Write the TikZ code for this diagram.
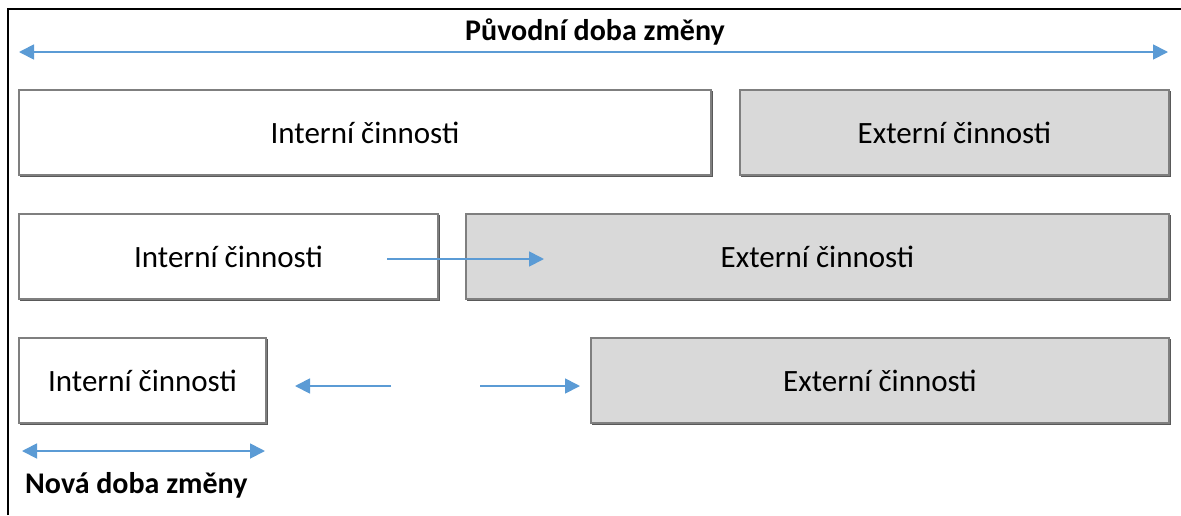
\documentclass[tikz,border=0pt]{standalone}
\usepackage{fontspec}
\setmainfont{Carlito}
\usetikzlibrary{arrows.meta}
\definecolor{arrowblue}{HTML}{5B9BD5}
\definecolor{boxgray}{HTML}{D9D9D9}
\definecolor{edgegray}{HTML}{7F7F7F}
\tikzset{
  actbox/.style={draw=edgegray, line width=1.5pt, inner sep=0pt, outer sep=0pt,
    font=\fontsize{31}{36}\selectfont, minimum height=85pt},
  intbox/.style={actbox, fill=white},
  extbox/.style={actbox, fill=boxgray},
  shade/.style={draw=black!65, line width=1.2pt},
  flow/.style={draw=arrowblue, line width=1.8pt, -{Triangle[length=15pt,width=15pt]}},
  span/.style={draw=arrowblue, line width=1.8pt, {Triangle[length=15pt,width=15pt]}-{Triangle[length=15pt,width=15pt]}},
  heading/.style={font=\fontsize{30}{34}\selectfont\bfseries, inner sep=0pt}
}
\begin{document}
\begin{tikzpicture}[x=1pt,y=-1pt]
\useasboundingbox (0,0) rectangle (1181,515);
% outer frame
\draw[line width=2pt, black] (8,515) -- (8,9) -- (1181,9);

% original changeover
\node[heading] (orig) at (595,32) {Původní doba změny};
\coordinate (oL) at (19,52);
\coordinate (oR) at (1168,52);
\draw[span] (oL) -- (oR);

% row 1
\draw[shade] (712,91) -- (712,176) -- (20,176);
\node[intbox, minimum width=692pt] (i1) at (365,132.5) {Interní činnosti};
\draw[shade] (1170,91) -- (1170,176) -- (741,176);
\node[extbox, minimum width=429pt] (e1) at (954.5,132.5) {Externí činnosti};

% row 2
\draw[shade] (439,215) -- (439,300) -- (20,300);
\node[intbox, minimum width=419pt] (i2) at (228.5,256.5) {Interní činnosti};
\draw[shade] (1170,215) -- (1170,300) -- (467,300);
\node[extbox, minimum width=703pt] (e2) at (817.5,256.5) {Externí činnosti};
\coordinate (m2a) at (387,259);
\coordinate (m2b) at (544,259);
\draw[flow] (m2a) -- (m2b);

% row 3
\draw[shade] (267,339) -- (267,424) -- (20,424);
\node[intbox, minimum width=247pt] (i3) at (142.5,380.5) {Interní činnosti};
\draw[shade] (1170,339) -- (1170,424) -- (592,424);
\node[extbox, minimum width=578pt] (e3) at (880,380.5) {Externí činnosti};
\coordinate (m3a) at (391,386);
\coordinate (m3b) at (295,386);
\coordinate (m3c) at (480,386);
\coordinate (m3d) at (580,386);
\draw[flow] (m3a) -- (m3b);
\draw[flow] (m3c) -- (m3d);

% new changeover
\coordinate (nL) at (22,451);
\coordinate (nR) at (265,451);
\draw[span] (nL) -- (nR);
\node[heading, anchor=west] (new) at (25,485) {Nová doba změny};
\end{tikzpicture}
\end{document}
